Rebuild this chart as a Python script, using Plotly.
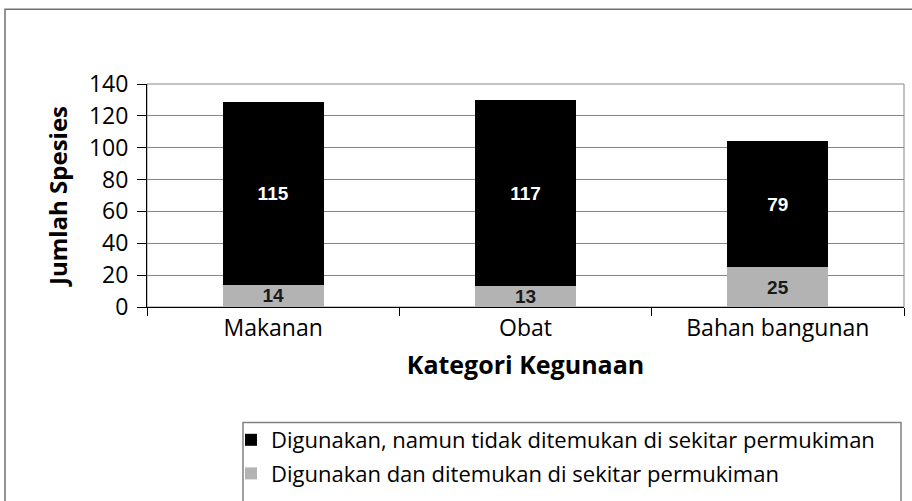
import plotly.graph_objects as go

categories = ["Makanan", "Obat", "Bahan bangunan"]
found_near = [14, 13, 25]
not_found_near = [115, 117, 79]
series_names = [
    "Digunakan dan ditemukan di sekitar permukiman",
    "Digunakan, namun tidak ditemukan di sekitar permukiman",
]
y_ticks = [0, 20, 40, 60, 80, 100, 120, 140]

FONT = "Open Sans"
L, R, T, B = 147, 8, 84, 193
PW = 912 - L - R
PH = 501 - T - B

def px_x(p):
    return (p - L) / PW

def px_y(p):
    return (501 - B - p) / PH

fig = go.Figure()
fig.add_trace(go.Bar(
    x=categories, y=found_near, name=series_names[0],
    marker=dict(color="#b3b3b3", line=dict(width=0)),
    text=[str(v) for v in found_near], textposition="inside", textangle=0,
    insidetextanchor="middle", constraintext="none",
    textfont=dict(family="Liberation Sans", size=19, color="#1a1a1a", weight="bold"),
    legendgroup="a", legendrank=2,
))
fig.add_trace(go.Bar(
    x=categories, y=not_found_near, name=series_names[1],
    marker=dict(color="#000000", line=dict(width=0)),
    text=[str(v) for v in not_found_near], textposition="inside", textangle=0,
    insidetextanchor="middle", constraintext="none",
    textfont=dict(family="Liberation Sans", size=19, color="#ffffff", weight="bold"),
    legendgroup="b", legendrank=1,
))

shapes = [
    # outer chart border
    dict(type="rect", xref="paper", yref="paper",
         x0=px_x(5), x1=px_x(930), y0=px_y(9), y1=px_y(530),
         line=dict(color="#707070", width=1.5), fillcolor="rgba(0,0,0,0)", layer="below"),
    # plot area frame
    dict(type="rect", xref="paper", yref="paper", x0=0, x1=1, y0=0, y1=1,
         line=dict(color="#868686", width=1), fillcolor="rgba(0,0,0,0)", layer="below"),
    # legend box
    dict(type="rect", xref="paper", yref="paper",
         x0=px_x(243), x1=px_x(901), y0=px_y(424), y1=px_y(530),
         line=dict(color="#808080", width=1.5), fillcolor="rgba(0,0,0,0)", layer="below"),
]

fig.update_layout(
    width=912, height=501,
    margin=dict(l=L, r=R, t=T, b=B),
    paper_bgcolor="white", plot_bgcolor="white",
    barmode="stack", bargap=0.6,
    font=dict(family=FONT, size=23, color="#000000"),
    showlegend=True,
    legend=dict(
        x=px_x(231), y=px_y(419), xanchor="left", yanchor="top",
        traceorder="grouped", tracegroupgap=2,
        font=dict(family=FONT, size=22, color="#000000"),
        bgcolor="rgba(0,0,0,0)", borderwidth=0,
    ),
    shapes=shapes,
    xaxis=dict(
        type="category", tickson="boundaries", ticks="outside", ticklen=8,
        tickcolor="#000000", showline=True, linecolor="#000000", linewidth=1,
        showgrid=False, tickfont=dict(family=FONT, size=23),
        title=dict(text="<b>Kategori Kegunaan</b>", standoff=14,
                   font=dict(family=FONT, size=25)),
    ),
    yaxis=dict(
        range=[0, 140], tickvals=y_ticks, ticks="outside", ticklen=9,
        tickcolor="#000000", showline=True, linecolor="#000000", linewidth=1,
        showgrid=True, gridcolor="#868686", gridwidth=1, zeroline=False,
        tickfont=dict(family=FONT, size=23), ticklabelstandoff=4,
        title=dict(text="<b>Jumlah Spesies</b>", standoff=14,
                   font=dict(family=FONT, size=24)),
    ),
)

fig.write_html("out.html", config={"displayModeBar": False},
               post_script="document.body.style.margin='0';")
